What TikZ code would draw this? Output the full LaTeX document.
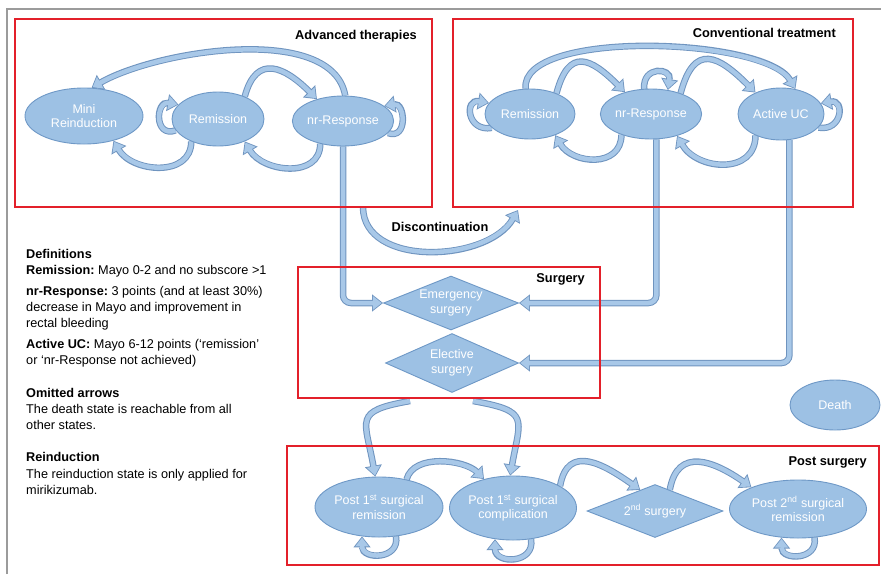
\documentclass[tikz,border=0pt]{standalone}
\usepackage{fontspec}
\setmainfont{Liberation Sans}
\usetikzlibrary{arrows.meta,shapes.geometric}
\definecolor{StateFill}{HTML}{9DC1E4}
\definecolor{StateEdge}{HTML}{6E98C6}
\definecolor{ArrFill}{HTML}{A8C8E8}
\definecolor{ArrEdge}{HTML}{6F94BF}
\definecolor{Frame}{HTML}{E3202A}
\definecolor{Outer}{HTML}{9B9B9B}
\pgfdeclarelayer{back}
\pgfsetlayers{back,main}
\newcommand\fat[2][]{\draw[fatout,#1] #2; \draw[fatin,#1] #2;}

\begin{document}
\begin{tikzpicture}[x=1pt,y=-1pt,
    state/.style={ellipse,draw=StateEdge,fill=StateFill,line width=0.9pt,text=white,align=center,inner sep=0pt,font=\fontsize{12.5}{14.5}\selectfont},
    choice/.style={diamond,aspect=2.5,draw=StateEdge,fill=StateFill,line width=0.9pt,text=white,align=center,inner sep=0pt,font=\fontsize{12.5}{14.5}\selectfont},
    frame/.style={draw=Frame,line width=1.8pt,inner sep=0pt},
    grp/.style={font=\bfseries\fontsize{12.8}{14}\selectfont,inner sep=0pt},
    fatout/.style={draw=ArrEdge,line width=6.5pt,-{Triangle[length=11pt,width=16.5pt]}},
    fatin/.style={draw=ArrFill,line width=4.5pt,shorten >=1.3pt,-{Triangle[length=8.8pt,width=13pt]}}]
    \useasboundingbox (0,0) rectangle (881,574);
    \draw[Outer,line width=1.5pt] (7,574) -- (7,9) -- (881,9);

    \node[frame,minimum width=417pt,minimum height=188pt] (advbox) at (223.5,113) {};
    \node[frame,minimum width=400pt,minimum height=188pt] (convbox) at (653,113) {};
    \node[frame,minimum width=302pt,minimum height=131pt] (surgbox) at (449,332.5) {};
    \node[frame,minimum width=592pt,minimum height=119pt] (postbox) at (583,505.5) {};
    \node[grp,anchor=east] (advlbl) at (417,36) {Advanced therapies};
    \node[grp,anchor=east] (convlbl) at (836,33) {Conventional treatment};
    \node[grp,anchor=east] (surglbl) at (585,279) {Surgery};
    \node[grp,anchor=east] (postlbl) at (867,462) {Post surgery};

    \node[state,minimum width=118pt,minimum height=56pt] (mini) at (84,116) {Mini\\Reinduction};
    \node[state,minimum width=92pt,minimum height=54pt] (arem) at (218,119) {Remission};
    \node[state,minimum width=90pt,minimum height=50pt] (anrr) at (343,121) {nr-Response};
    \node[state,minimum width=90pt,minimum height=50pt] (crem) at (530,114) {Remission};
    \node[state,minimum width=86pt,minimum height=50pt] (cnrr) at (651,114) {nr-Response};
    \node[state,minimum width=86pt,minimum height=52pt] (cauc) at (781,114) {Active UC};

    \node[choice,minimum width=135pt,minimum height=54pt] (emerg) at (451,303) {Emergency\\surgery};
    \node[choice,minimum width=133pt,minimum height=59pt] (elec) at (452,363) {Elective\\surgery};
    \node[state,minimum width=90pt,minimum height=50pt] (death) at (835,405) {Death};

    \node[state,minimum width=128pt,minimum height=60pt] (p1r) at (379,507) {Post 1\textsuperscript{st} surgical\\remission};
    \node[state,minimum width=127pt,minimum height=64pt] (p1c) at (513,508) {Post 1\textsuperscript{st} surgical\\complication};
    \node[choice,minimum width=136pt,minimum height=53pt] (sec) at (655,511) {2\textsuperscript{nd} surgery};
    \node[state,minimum width=137pt,minimum height=58pt] (p2r) at (798,509) {Post 2\textsuperscript{nd} surgical\\remission};

    \node[grp] (disc) at (440,227) {Discontinuation};
    \coordinate (dstart) at (363,207);
    \coordinate (dend) at (518,210);
    \coordinate (elecl) at (410,401);
    \coordinate (elecr) at (473,401);

    \node[align=left,anchor=north west,inner sep=0pt,font=\fontsize{12.7}{16.3}\selectfont\frenchspacing] (defs) at (26,249) {%
      \textbf{Definitions}\\
      \textbf{Remission:} Mayo 0-2 and no subscore >1\\[4pt]
      \textbf{nr-Response:} 3 points (and at least 30\%)\\
      decrease in Mayo and improvement in\\
      rectal bleeding\\[4.5pt]
      \textbf{Active UC:} Mayo 6-12 points (‘remission’\\
      or ‘nr-Response not achieved)\\[16pt]
      \textbf{Omitted arrows}\\
      The death state is reachable from all\\
      other states.\\[16pt]
      \textbf{Reinduction}\\
      The reinduction state is only applied for\\
      mirikizumab.};

    \begin{pgfonlayer}{back}
    \fat{(anrr.85) to[out=100,in=30,looseness=0.75] (mini.75)}
    \fat{(arem.40) to[out=75,in=135,looseness=1.6] (anrr.140)}
    \fat{(anrr.-135) to[out=-90,in=-60,looseness=1.2] (arem.-40)}
    \fat{(arem.-140) to[out=-90,in=-60,looseness=1.2] (mini.-40)}
    \fat{(arem.195) to[out=200,in=170,looseness=2.3] (arem.160)}
    \fat{(anrr.-15) to[out=-20,in=10,looseness=2] (anrr.20)}

    \fat{(crem.100) to[out=95,in=120,looseness=0.57] (cauc.60)}
    \fat{(crem.38) to[out=75,in=135,looseness=1.8] (cnrr.140)}
    \fat{(cnrr.105) to[out=95,in=80,looseness=2.5] (cnrr.55)}
    \fat{(cnrr.35) to[out=75,in=135,looseness=1.8] (cauc.140)}
    \fat{(cauc.-140) to[out=-90,in=-60,looseness=1.3] (cnrr.-40)}
    \fat{(cnrr.-145) to[out=-90,in=-60,looseness=1.3] (crem.-40)}
    \fat{(crem.200) to[out=190,in=170,looseness=2.6] (crem.165)}
    \fat{(cauc.-20) to[out=-10,in=10,looseness=2.6] (cauc.15)}

    \fat{(dstart) to[out=-90,in=-120] (dend)}
    \fat[rounded corners=8pt]{(anrr.south) |- (emerg.west)}
    \fat[rounded corners=8pt]{(cnrr.-78) |- (emerg.east)}
    \fat[rounded corners=8pt]{(cauc.-72) |- (elec.east)}

    \fat{(elecl) to[out=190,in=100,looseness=1.8] (p1r.97)}
    \fat{(elecr) to[out=-10,in=80,looseness=1.8] (p1c.95)}
    \fat{(p1r.45) to[out=75,in=135,looseness=0.9] (p1c.135)}
    \fat{(p1c.25) to[out=80,in=145,looseness=1.4] (sec.125)}
    \fat{(sec.55) to[out=80,in=145,looseness=1.4] (p2r.155)}
    \fat{(p1r.-60) to[out=-80,in=-90,looseness=1.8] (p1r.-120)}
    \fat{(p1c.-60) to[out=-80,in=-90,looseness=1.8] (p1c.-120)}
    \fat{(p2r.-60) to[out=-80,in=-90,looseness=1.8] (p2r.-120)}
    \end{pgfonlayer}
\end{tikzpicture}
\end{document}
